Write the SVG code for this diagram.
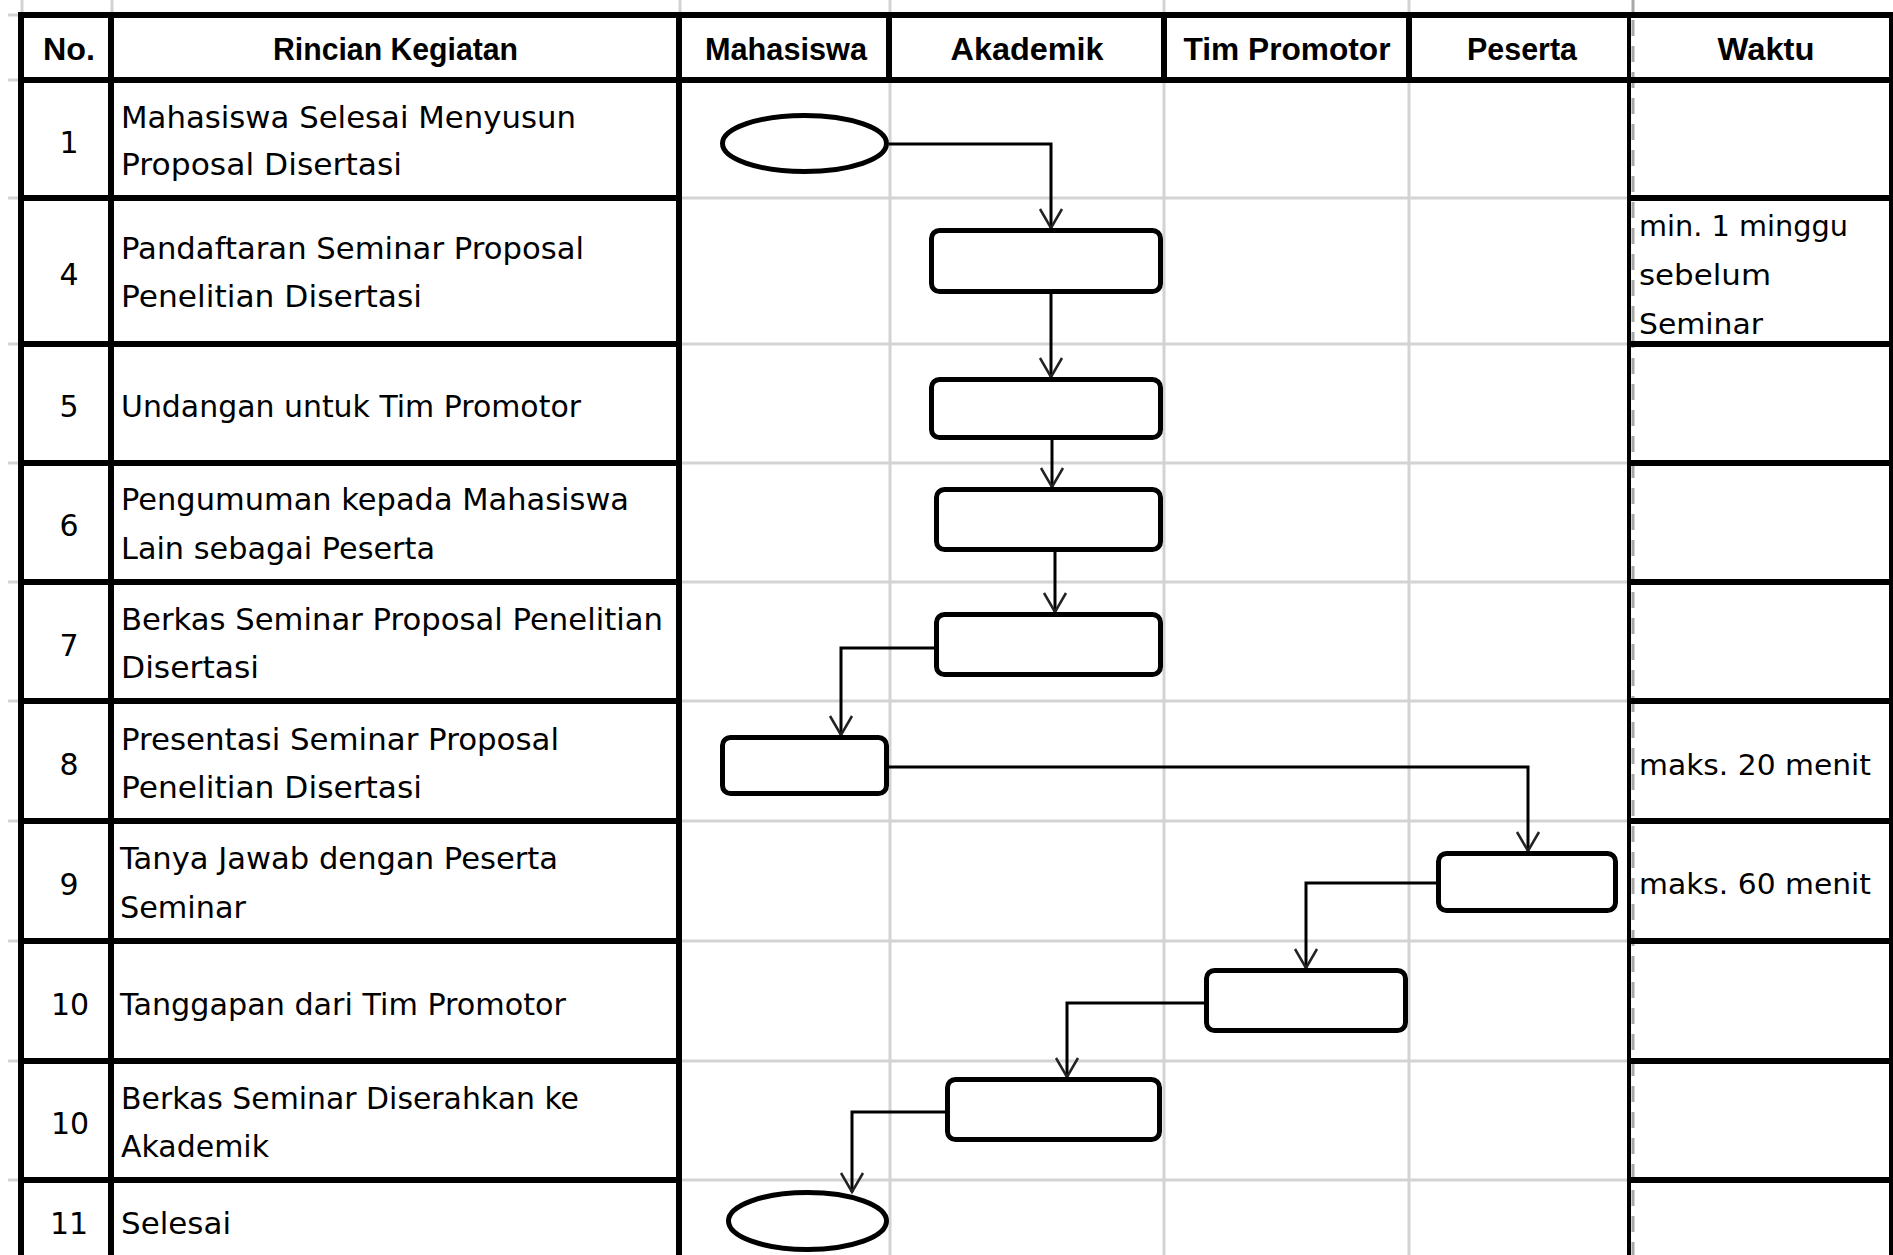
<svg xmlns="http://www.w3.org/2000/svg" width="1893" height="1255" viewBox="0 0 1893 1255">
<style>
.bg{fill:#ffffff}
.grid{stroke:#d3d3d3;stroke-width:3;fill:none}
.dash{stroke:#a8a8a8;stroke-width:3;stroke-dasharray:16 10;fill:none}
.bh{stroke:#000;stroke-width:6;fill:none}
.bv{stroke:#000;stroke-width:6;fill:none}
.bt{stroke:#000;stroke-width:4;fill:none}
.h{font-family:"Liberation Sans",Arial,sans-serif;font-weight:bold;font-size:31px;fill:#000;text-anchor:middle}
.t{font-family:"DejaVu Sans","Liberation Sans",sans-serif;font-size:30px;fill:#000}
.n{font-family:"DejaVu Sans","Liberation Sans",sans-serif;font-size:30px;fill:#000;text-anchor:middle}
.w{font-family:"DejaVu Sans","Liberation Sans",sans-serif;font-size:29px;fill:#000}
.box{fill:#fff;stroke:#000;stroke-width:5}
.conn{stroke:#000;stroke-width:3;fill:none}
</style>
<defs>
<marker id="arr" markerUnits="userSpaceOnUse" viewBox="-22 -14 24 28" refX="0" refY="0" markerWidth="24" markerHeight="28" orient="auto">
<path d="M-19,-11 L0,0 L-19,11" fill="none" stroke="#222" stroke-width="2.5"/>
</marker>
</defs>
<rect class="bg" x="0" y="0" width="1893" height="1255"/>

<g id="gridlines">
<path class="grid" d="M22,0V14 M112,0V14 M680,0V14 M890,0V1255 M1164,0V1255 M1409,0V1255"/>
<path class="grid" d="M8,15H20 M8,80H20 M8,198H20 M8,344H20 M8,463H20 M8,582H20 M8,701H20 M8,821H20 M8,941H20 M8,1061H20 M8,1180H20"/>
<path class="grid" d="M682,198H1627 M682,344H1627 M682,463H1627 M682,582H1627 M682,701H1627 M682,821H1627 M682,941H1627 M682,1061H1627 M682,1180H1627"/>
<path class="dash" d="M1633,0V12 M1633,20V1255"/>
</g>

<g id="table-borders">
<path class="bh" d="M18,15H1893 M18,80H1893"/>
<path class="bh" d="M18,198H682 M18,344H682 M18,463H682 M18,582H682 M18,701H682 M18,821H682 M18,941H682 M18,1061H682 M18,1180H682"/>
<path class="bh" d="M1631,198H1893 M1631,344H1893 M1631,463H1893 M1631,582H1893 M1631,701H1893 M1631,821H1893 M1631,941H1893 M1631,1061H1893 M1631,1180H1893"/>
<path class="bv" d="M21,12V1255 M111,12V1255 M679,12V1255"/>
<path class="bv" d="M889,12V83 M1164,12V83 M1409,12V83"/>
<path class="bt" d="M1629,12V1255 M1891,12V1255"/>
</g>

<g id="header">
<text class="h" x="69" y="60" textLength="52" lengthAdjust="spacingAndGlyphs">No.</text>
<text class="h" x="395.5" y="60" textLength="245" lengthAdjust="spacingAndGlyphs">Rincian Kegiatan</text>
<text class="h" x="786" y="60" textLength="162" lengthAdjust="spacingAndGlyphs">Mahasiswa</text>
<text class="h" x="1027" y="60" textLength="153" lengthAdjust="spacingAndGlyphs">Akademik</text>
<text class="h" x="1287" y="60" textLength="207" lengthAdjust="spacingAndGlyphs">Tim Promotor</text>
<text class="h" x="1522" y="60" textLength="110" lengthAdjust="spacingAndGlyphs">Peserta</text>
<text class="h" x="1766" y="60" textLength="97" lengthAdjust="spacingAndGlyphs">Waktu</text>
</g>

<g id="rows">
<text class="n" x="69" y="153">1</text>
<text class="t" x="121" y="128" textLength="455" lengthAdjust="spacingAndGlyphs">Mahasiswa Selesai Menyusun</text>
<text class="t" x="121" y="175" textLength="281" lengthAdjust="spacingAndGlyphs">Proposal Disertasi</text>

<text class="n" x="69" y="285">4</text>
<text class="t" x="121" y="259" textLength="463" lengthAdjust="spacingAndGlyphs">Pandaftaran Seminar Proposal</text>
<text class="t" x="121" y="307" textLength="301" lengthAdjust="spacingAndGlyphs">Penelitian Disertasi</text>

<text class="n" x="69" y="417">5</text>
<text class="t" x="121" y="417" textLength="460" lengthAdjust="spacingAndGlyphs">Undangan untuk Tim Promotor</text>

<text class="n" x="69" y="536">6</text>
<text class="t" x="121" y="510" textLength="508" lengthAdjust="spacingAndGlyphs">Pengumuman kepada Mahasiswa</text>
<text class="t" x="121" y="559" textLength="314" lengthAdjust="spacingAndGlyphs">Lain sebagai Peserta</text>

<text class="n" x="69" y="656">7</text>
<text class="t" x="121" y="630" textLength="542" lengthAdjust="spacingAndGlyphs">Berkas Seminar Proposal Penelitian</text>
<text class="t" x="121" y="678" textLength="138" lengthAdjust="spacingAndGlyphs">Disertasi</text>

<text class="n" x="69" y="775">8</text>
<text class="t" x="121" y="750" textLength="438" lengthAdjust="spacingAndGlyphs">Presentasi Seminar Proposal</text>
<text class="t" x="121" y="798" textLength="301" lengthAdjust="spacingAndGlyphs">Penelitian Disertasi</text>

<text class="n" x="69" y="895">9</text>
<text class="t" x="120" y="869" textLength="438" lengthAdjust="spacingAndGlyphs">Tanya Jawab dengan Peserta</text>
<text class="t" x="120" y="918" textLength="126" lengthAdjust="spacingAndGlyphs">Seminar</text>

<text class="n" x="70" y="1015">10</text>
<text class="t" x="120" y="1015" textLength="446" lengthAdjust="spacingAndGlyphs">Tanggapan dari Tim Promotor</text>

<text class="n" x="70" y="1134">10</text>
<text class="t" x="121" y="1109" textLength="458" lengthAdjust="spacingAndGlyphs">Berkas Seminar Diserahkan ke</text>
<text class="t" x="121" y="1157" textLength="148" lengthAdjust="spacingAndGlyphs">Akademik</text>

<text class="n" x="69" y="1234">11</text>
<text class="t" x="121" y="1234" textLength="110" lengthAdjust="spacingAndGlyphs">Selesai</text>
</g>

<g id="waktu">
<text class="w" x="1639" y="236" textLength="209" lengthAdjust="spacingAndGlyphs">min. 1 minggu</text>
<text class="w" x="1639" y="285" textLength="132" lengthAdjust="spacingAndGlyphs">sebelum</text>
<text class="w" x="1639" y="334" textLength="124" lengthAdjust="spacingAndGlyphs">Seminar</text>
<text class="w" x="1639" y="775" textLength="232" lengthAdjust="spacingAndGlyphs">maks. 20 menit</text>
<text class="w" x="1639" y="894" textLength="232" lengthAdjust="spacingAndGlyphs">maks. 60 menit</text>
</g>

<g id="connectors">
<path class="conn" marker-end="url(#arr)" d="M889,144H1051V228"/>
<path class="conn" marker-end="url(#arr)" d="M1051,294V377"/>
<path class="conn" marker-end="url(#arr)" d="M1052,440V487"/>
<path class="conn" marker-end="url(#arr)" d="M1055,552V612"/>
<path class="conn" marker-end="url(#arr)" d="M934,648H841V735"/>
<path class="conn" marker-end="url(#arr)" d="M889,767H1528V851"/>
<path class="conn" marker-end="url(#arr)" d="M1436,883H1306V968"/>
<path class="conn" marker-end="url(#arr)" d="M1204,1003H1067V1077"/>
<path class="conn" marker-end="url(#arr)" d="M945,1112H852V1192"/>
</g>

<g id="start"><ellipse class="box" cx="804.5" cy="143.5" rx="82" ry="28"/></g>
<g id="step4"><rect class="box" x="931.5" y="230.5" width="229" height="61" rx="8"/></g>
<g id="step5"><rect class="box" x="931.5" y="379.5" width="229" height="58" rx="8"/></g>
<g id="step6"><rect class="box" x="936.5" y="489.5" width="224" height="60" rx="8"/></g>
<g id="step7"><rect class="box" x="936.5" y="614.5" width="224" height="60" rx="8"/></g>
<g id="step8"><rect class="box" x="722.5" y="737.5" width="164" height="56" rx="8"/></g>
<g id="step9"><rect class="box" x="1438.5" y="853.5" width="177" height="57" rx="8"/></g>
<g id="step10"><rect class="box" x="1206.5" y="970.5" width="199" height="60" rx="8"/></g>
<g id="step10b"><rect class="box" x="947.5" y="1079.5" width="212" height="60" rx="8"/></g>
<g id="end"><ellipse class="box" cx="807.5" cy="1221" rx="79" ry="28.5"/></g>
</svg>
